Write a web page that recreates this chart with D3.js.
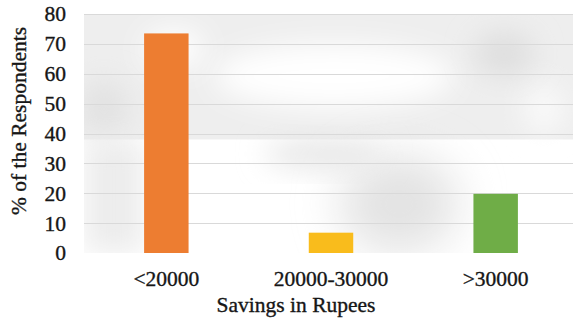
<!DOCTYPE html>
<html>
<head>
<meta charset="utf-8">
<script src="https://cdn.jsdelivr.net/npm/d3@7"></script>
<style>
  html, body { margin: 0; padding: 0; background: #fff; }
  svg { display: block; }
</style>
</head>
<body>
<svg id="chart" width="573" height="322"></svg>
<script>
// Share of respondents by savings bracket
const categories = ["<20000", "20000-30000", ">30000"];
const percentages = [73.5, 6.8, 19.8];
const barColors = ["#ED7D31", "#F9BC1C", "#6FAD47"];
const yTicks = [0, 10, 20, 30, 40, 50, 60, 70, 80];
const xTitle = "Savings in Rupees";
const yTitle = "% of the Respondents";

const svg = d3.select("#chart");
const W = 573, H = 322;
const margin = { left: 84, right: -5, top: 14, bottom: 69 };
const plotW = W - margin.left - margin.right;
const plotH = H - margin.top - margin.bottom;
const font = "\"Liberation Serif\"";
const fontSize = 21.5;
const ink = "#161616";

// Shared text styling: serif face with a slightly heavier stroke
function styleText(sel) {
  sel.style("font-family", font).style("font-size", fontSize + "px")
    .attr("fill", ink).attr("stroke", ink).attr("stroke-width", 0.35);
}

const x = d3.scaleBand().domain(categories).range([0, plotW]).paddingInner(0.73).paddingOuter(0.365);
const y = d3.scaleLinear().domain([0, 80]).range([plotH, 0]);

const defs = svg.append("defs");
defs.append("clipPath").attr("id", "plotClip")
  .append("rect").attr("width", plotW).attr("height", plotH);
defs.append("filter").attr("id", "soft").attr("x", "-50%").attr("y", "-50%").attr("width", "200%").attr("height", "200%")
  .append("feGaussianBlur").attr("stdDeviation", 14);
defs.append("filter").attr("id", "softer").attr("x", "-50%").attr("y", "-50%").attr("width", "200%").attr("height", "200%")
  .append("feGaussianBlur").attr("stdDeviation", 22);

const g = svg.append("g").attr("transform", `translate(${margin.left},${margin.top})`);

// Shaded plot background
const bg = g.append("g").attr("clip-path", "url(#plotClip)");
const bandBottom = y(38);
bg.append("rect").attr("x", 0).attr("y", 0).attr("width", plotW).attr("height", bandBottom).attr("fill", "#eeeeee");
bg.append("ellipse").attr("cx", 250).attr("cy", 62).attr("rx", 120).attr("ry", 32).attr("fill", "#ffffff").attr("filter", "url(#soft)");
bg.append("ellipse").attr("cx", 90).attr("cy", 35).attr("rx", 30).attr("ry", 20).attr("fill", "#ffffff").attr("filter", "url(#soft)");
bg.append("ellipse").attr("cx", 460).attr("cy", 95).attr("rx", 20).attr("ry", 25).attr("fill", "#fafafa").attr("filter", "url(#soft)");
bg.append("ellipse").attr("cx", 420).attr("cy", 40).attr("rx", 30).attr("ry", 22).attr("fill", "#dedede").attr("filter", "url(#soft)");
bg.append("ellipse").attr("cx", 20).attr("cy", 95).attr("rx", 25).attr("ry", 30).attr("fill", "#e2e2e2").attr("filter", "url(#soft)");
bg.append("rect").attr("x", 0).attr("y", bandBottom).attr("width", 60).attr("height", plotH - bandBottom).attr("fill", "#ececec").attr("filter", "url(#soft)");
bg.append("ellipse").attr("cx", 315).attr("cy", 190).attr("rx", 60).attr("ry", 50).attr("fill", "#e3e3e3").attr("filter", "url(#softer)");
bg.append("ellipse").attr("cx", 240).attr("cy", 140).attr("rx", 60).attr("ry", 15).attr("fill", "#e6e6e6").attr("filter", "url(#soft)");

// Gridlines
g.append("g").selectAll("line").data(yTicks.filter(d => d > 0)).join("line")
  .attr("x1", 0).attr("x2", plotW)
  .attr("y1", d => Math.round(y(d)) + 0.5).attr("y2", d => Math.round(y(d)) + 0.5)
  .attr("stroke", "#d9d9d9").attr("stroke-width", 1.2);

// Bars
g.append("g").selectAll("rect").data(categories).join("rect")
  .attr("x", d => x(d))
  .attr("y", (d, i) => y(percentages[i]))
  .attr("width", x.bandwidth())
  .attr("height", (d, i) => y(0) - y(percentages[i]))
  .attr("fill", (d, i) => barColors[i]);

// Y axis labels
const yAxis = g.append("g").call(d3.axisLeft(y).tickValues(yTicks).tickSize(0).tickPadding(18));
yAxis.select(".domain").remove();
yAxis.selectAll("text").call(styleText);

// X axis labels
const xAxis = g.append("g").attr("transform", `translate(0,${plotH})`)
  .call(d3.axisBottom(x).tickSize(0));
xAxis.select(".domain").remove();
xAxis.selectAll("text").attr("y", 33).attr("dy", 0).call(styleText);

// Axis titles
svg.append("text").attr("x", 296).attr("y", 312).attr("text-anchor", "middle")
  .call(styleText).text(xTitle);
svg.append("text").attr("transform", "translate(26,121) rotate(-90)").attr("text-anchor", "middle")
  .call(styleText).text(yTitle);
</script>
</body>
</html>
